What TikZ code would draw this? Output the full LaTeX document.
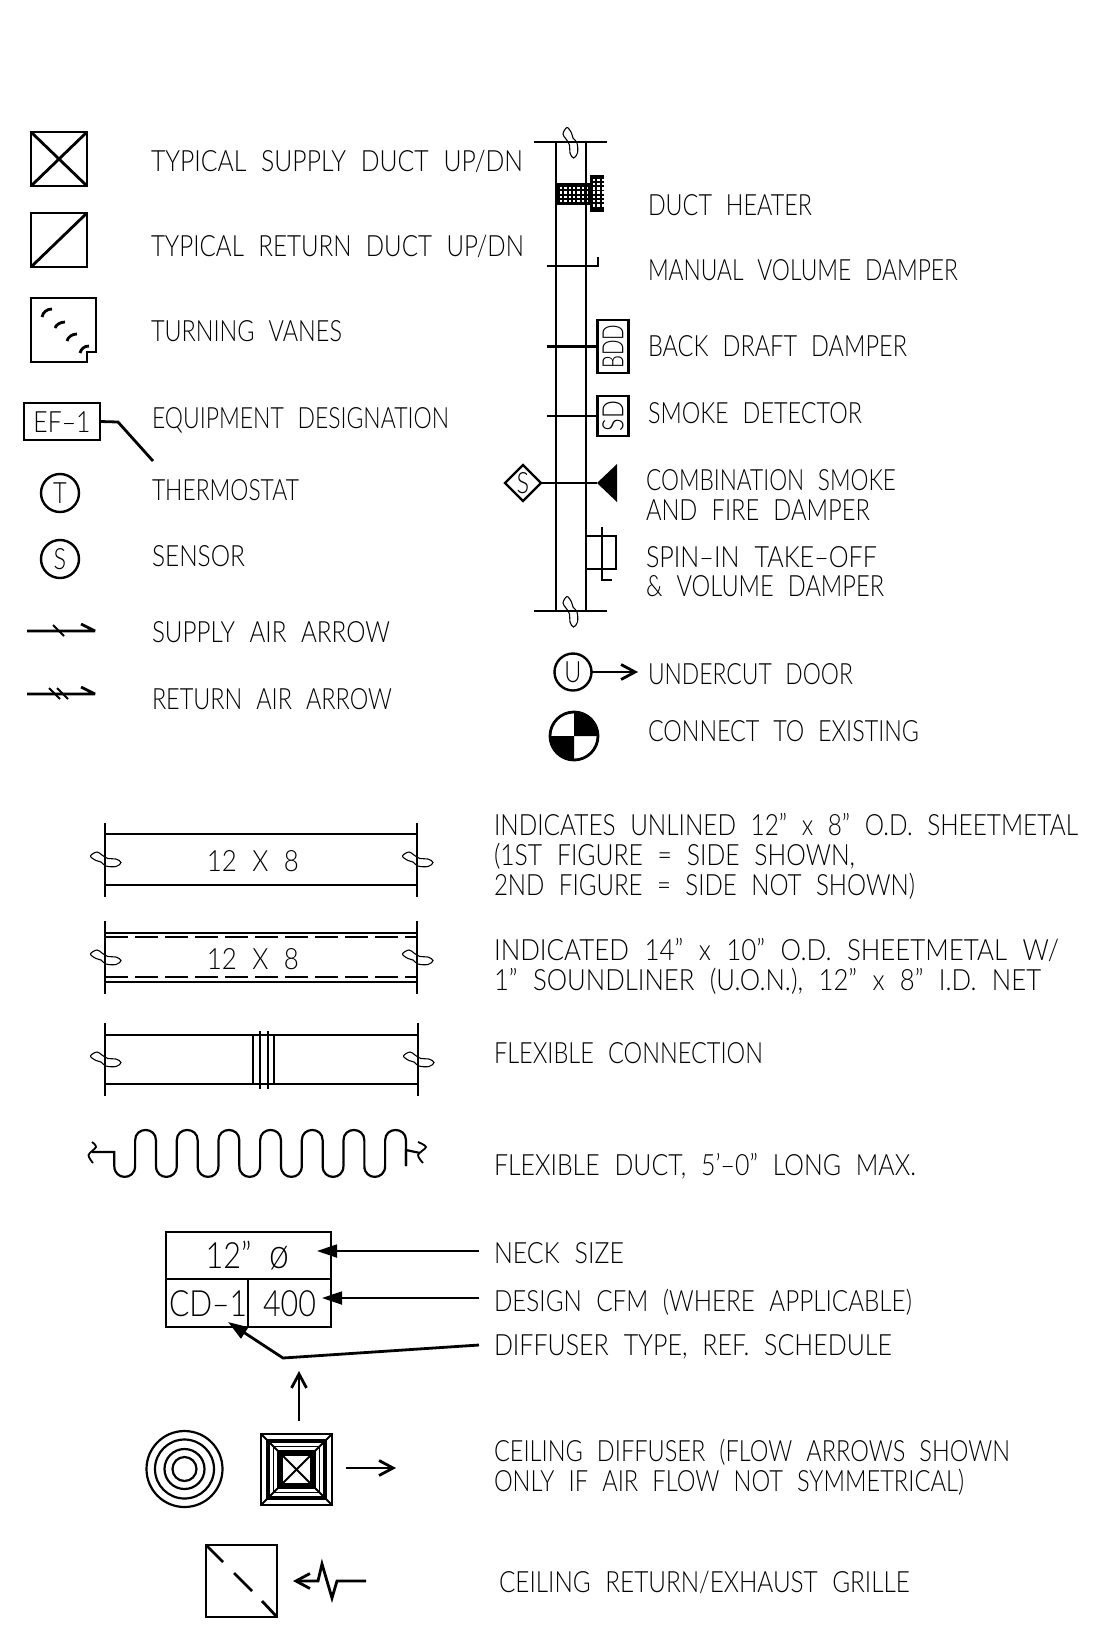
\documentclass[tikz,border=0pt]{standalone}
\usepackage{graphicx}
\usepackage{fontspec}
\usetikzlibrary{arrows.meta,shapes.geometric}
\newfontfamily\cadfont[FakeStretch=0.8,WordSpace=2.2]{Lato Light}
\newcommand{\fitw}[2]{\resizebox{\dimexpr#1pt/2\relax}{\height}{#2}}
\tikzset{
    cadline/.style={line width=1.4pt, line join=miter},
    thinline/.style={line width=0.9pt},
    hairline/.style={line width=0.55pt},
    cadbox/.style={rectangle, draw, line width=1.4pt, inner sep=0, outer sep=0},
    cadcircle/.style={circle, draw, line width=1.2pt, inner sep=0, outer sep=0, minimum size=19pt},
    cadtext/.style={inner sep=0, outer sep=0, text height=10.5pt, text depth=0pt, font=\cadfont\fontsize{14.65}{16}\selectfont},
    bigtext/.style={inner sep=0, outer sep=0, text height=13pt, text depth=0pt, font=\cadfont\fontsize{18.1}{20}\selectfont},
    legend/.style={cadtext, anchor=west},
    openhead/.style={-{Straight Barb[length=7pt,width=7.5pt]}},
    solidhead/.style={-{Triangle[length=10pt,width=6.5pt]}},
    ductbreak/.pic={\draw[hairline] plot[smooth cycle, tension=0.6] coordinates {(-7,-8) (-3,-14.5) (1.5,-9) (3,-4) (7,1) (7.5,11) (3.5,16) (0,11) (-0.5,3) (-4,-3)};},
    ductbreak side/.pic={\draw[hairline] plot[smooth cycle, tension=0.6] coordinates {(-8,-7) (-14.5,-3) (-9,1.5) (-4,3) (1,7) (11,7.5) (16,3.5) (11,0) (3,-0.5) (-3,-4)};}
}
\begin{document}
\begin{tikzpicture}[x=0.5pt, y=-0.5pt]
    \useasboundingbox (0,0) rectangle (1113,1650);

    % Left column symbols
    \node (supply) [cadbox, minimum width=28pt, minimum height=27pt] at (59,159) {};
    \node (return) [cadbox, minimum width=28pt, minimum height=27pt] at (59,240) {};
    \draw[cadline] (supply.north west) -- (supply.south east);
    \draw[cadline] (supply.north east) -- (supply.south west);
    \draw[cadline] (return.north east) -- (return.south west);
    \draw[cadline] (31,298) -- (96,298) -- (96,352) -- (87,352) -- (87,362) -- (31,362) -- cycle;
    \draw[cadline] (42,317) .. controls (43,312) and (47,309) .. (52,309);
    \draw[cadline] (55,328) .. controls (56,325) and (60,322) .. (65,322);
    \draw[cadline] (67,341) .. controls (68,337) and (72,334) .. (77,334);
    \draw[cadline] (80,353) .. controls (81,349) and (84,346) .. (89,346);
    \node (ef) [cadbox, cadtext, minimum width=38pt, minimum height=18.5pt] at (62,421.5) {\fitw{57}{EF–1}};
    \coordinate (efbend) at (118,422);
    \coordinate (efend) at (153,461);
    \draw[cadline] (ef.east) -- (efbend) -- (efend);
    \node (tstat) [cadcircle, cadtext] at (60,493) {T};
    \node (sens) [cadcircle, cadtext] at (60,559) {S};
    \draw[cadline, line join=bevel] (27,631) -- (95,631) -- (81,624);
    \draw[thinline] (53,625) -- (64,636);
    \draw[cadline, line join=bevel] (27,694) -- (95,694) -- (81,687);
    \draw[thinline] (49,688) -- (60,699);
    \draw[thinline] (57,688) -- (68,699);

    % Left column labels
    \node (l1) [legend] at (151,161) {\fitw{372}{TYPICAL SUPPLY DUCT UP/DN}};
    \node (l2) [legend] at (151,246) {\fitw{373}{TYPICAL RETURN DUCT UP/DN}};
    \node (l3) [legend] at (151,331) {\fitw{191}{TURNING VANES}};
    \node (l4) [legend] at (152,418) {\fitw{297}{EQUIPMENT DESIGNATION}};
    \node (l5) [legend] at (152,490) {\fitw{147}{THERMOSTAT}};
    \node (l6) [legend] at (152,556) {\fitw{93}{SENSOR}};
    \node (l7) [legend] at (152,632) {\fitw{238}{SUPPLY AIR ARROW}};
    \node (l8) [legend] at (152,699) {\fitw{240}{RETURN AIR ARROW}};

    % Riser
    \fill (556,183) rectangle (590,205);
    \fill (590,175) rectangle (604,212);
    \foreach \dx in {0,...,6} \foreach \dy in {0,...,3}
        \fill[white] ({561+4.3*\dx-1},{188+4.3*\dy-1}) rectangle ++(2.4,2.4);
    \foreach \dx in {0,1,2} \foreach \dy in {0,...,6}
        \fill[white] ({594+4.3*\dx-1},{179.5+4.3*\dy-1}) rectangle ++(2.4,2.4);
    \draw[cadline] (556,142) -- (556,611);
    \draw[cadline] (586,142) -- (586,611);
    \draw[cadline] (534,142) -- (607,142);
    \draw[cadline] (534,611) -- (607,611);
    \pic at (570,142) {ductbreak};
    \pic at (570,611) {ductbreak};
    \draw[cadline] (547,266) -- (598,266) -- (598,257);
    \node (bdd) [cadbox, minimum width=15.5pt, minimum height=26.5pt] at (612.75,346.5) {};
    \node (bddtext) [cadtext, rotate=90] at (bdd.center) {\fitw{44}{BDD}};
    \coordinate (bddend) at (547,346.5);
    \draw[cadline] (bddend) -- (bdd.west);
    \node (sd) [cadbox, minimum width=15.5pt, minimum height=20pt] at (612.75,416) {};
    \node (sdtext) [cadtext, rotate=90] at (sd.center) {SD};
    \coordinate (sdend) at (547,416);
    \draw[cadline] (sdend) -- (sd.west);
    \node (sdiamond) [diamond, draw, line width=1.2pt, cadtext, minimum width=18pt, minimum height=18pt, outer sep=0] at (523,483) {S};
    \coordinate (cfdapex) at (597,483);
    \draw[cadline] (sdiamond.east) -- (cfdapex);
    \fill (cfdapex) -- (617,464) -- (617,502) -- cycle;
    \draw[cadline] (586,536) -- (616,536) -- (616,569) -- (586,569);
    \draw[cadline] (602,527) -- (602,580) -- (612,580);
    \node (under) [cadcircle, cadtext, minimum size=18.5pt] at (573,672) {U};
    \coordinate (underend) at (638,672);
    \draw[cadline, openhead] (under.east) -- (underend);
    \node (conn) [circle, draw, line width=1.4pt, minimum size=24pt, inner sep=0, outer sep=0] at (574,736) {};
    \fill (conn.center) -- (conn.west) arc[start angle=180, end angle=90, radius=24] -- cycle;
    \fill (conn.center) -- (conn.east) arc[start angle=0, end angle=-90, radius=24] -- cycle;

    % Riser labels
    \node (r1) [legend] at (648,205) {\fitw{164}{DUCT HEATER}};
    \node (r2) [legend] at (648,270) {\fitw{310}{MANUAL VOLUME DAMPER}};
    \node (r3) [legend] at (648,346) {\fitw{259}{BACK DRAFT DAMPER}};
    \node (r4) [legend] at (648,413) {\fitw{214}{SMOKE DETECTOR}};
    \node (r5) [legend] at (646,480) {\fitw{250}{COMBINATION SMOKE}};
    \node (r6) [legend] at (646,510) {\fitw{224}{AND FIRE DAMPER}};
    \node (r7) [legend] at (646,556.5) {\fitw{231}{SPIN–IN TAKE–OFF}};
    \node (r8) [legend] at (646,586) {\fitw{238}{\& VOLUME DAMPER}};
    \node (r9) [legend] at (648,674) {\fitw{205}{UNDERCUT DOOR}};
    \node (r10) [legend] at (648,731) {\fitw{271}{CONNECT TO EXISTING}};

    % Duct runs
    \draw[cadline] (105,823) -- (105,897);
    \draw[cadline] (417,823) -- (417,897);
    \draw[cadline] (105,834) -- (417,834);
    \draw[cadline] (105,885) -- (417,885);
    \node (size1) [cadtext] at (253,861) {\fitw{92}{12 X 8}};
    \pic at (105,859) {ductbreak side};
    \pic at (417,859) {ductbreak side};
    \draw[cadline] (105,921) -- (105,994);
    \draw[cadline] (417,921) -- (417,994);
    \draw[cadline] (105,933) -- (417,933);
    \draw[cadline] (105,982) -- (417,982);
    \draw[thinline, dash pattern=on 11.5pt off 3.5pt] (105,937) -- (417,937);
    \draw[thinline, dash pattern=on 11.5pt off 3.5pt] (105,977) -- (417,977);
    \node (size2) [cadtext] at (253,959) {\fitw{92}{12 X 8}};
    \pic at (105,957) {ductbreak side};
    \pic at (417,957) {ductbreak side};
    \draw[cadline] (105,1023) -- (105,1096);
    \draw[cadline] (418,1023) -- (418,1096);
    \draw[cadline] (105,1035) -- (418,1035);
    \draw[cadline] (105,1084) -- (418,1084);
    \draw[thinline] (253,1035) -- (253,1084);
    \draw[thinline] (274,1035) -- (274,1084);
    \draw[thinline] (260,1031) -- (260,1089);
    \draw[thinline] (268,1031) -- (268,1089);
    \pic at (105,1059) {ductbreak side};
    \pic at (418,1059) {ductbreak side};
    \draw[thinline] plot[smooth] coordinates {(92,1142) (96,1147) (88.5,1155) (93,1163)};
    \draw[line width=1.1pt] (92,1152) -- (114.3,1152) -- (114.3,1166)
        \foreach \k in {0,...,6} {
            .. controls ({114.3+41.67*\k},1180.5) and ({135.1+41.67*\k},1180.5) .. ({135.1+41.67*\k},1166)
            -- ({135.1+41.67*\k},1140.4)
            .. controls ({135.1+41.67*\k},1126.5) and ({156*1+41.67*\k},1126.5) .. ({156*1+41.67*\k},1140.4)
            -- ({156*1+41.67*\k},1166)
        };
    \draw[line width=1.1pt] (406,1166) -- (406,1150) -- (420,1153);
    \draw[thinline] plot[smooth] coordinates {(418,1142) (426,1147) (418,1155) (423,1163)};

    % Duct labels
    \node (d1) [legend] at (494,825) {\fitw{584}{INDICATES UNLINED 12” x 8” O.D. SHEETMETAL}};
    \node (d2) [legend] at (494,855) {\fitw{361}{(1ST FIGURE = SIDE SHOWN,}};
    \node (d3) [legend] at (494,885) {\fitw{421}{2ND FIGURE = SIDE NOT SHOWN)}};
    \node (d4) [legend] at (494,950) {\fitw{565}{INDICATED 14” x 10” O.D. SHEETMETAL W/}};
    \node (d5) [legend] at (494,980) {\fitw{547}{1” SOUNDLINER (U.O.N.), 12” x 8” I.D. NET}};
    \node (d6) [legend] at (494,1053) {\fitw{269}{FLEXIBLE CONNECTION}};
    \node (d7) [legend] at (494,1165) {\fitw{422}{FLEXIBLE DUCT, 5’–0” LONG MAX.}};

    % Diffuser schedule
    \node (neck) [cadbox, minimum width=82.5pt, minimum height=23.5pt] at (248.5,1255.5) {};
    \node (type) [cadbox, minimum width=41pt, minimum height=24pt] at (207,1303) {};
    \node (cfm) [cadbox, minimum width=41.5pt, minimum height=24pt] at (289.5,1303) {};
    \node (necktext) [bigtext] at (247.5,1255) {\fitw{84}{12” {\fontsize{21}{21}\selectfont ø}}};
    \node (typetext) [bigtext] at (208,1303) {\fitw{78}{CD–1}};
    \node (cfmtext) [bigtext] at (289.5,1303) {\fitw{53}{400}};
    \node (l10) [legend] at (494,1253) {\fitw{130}{NECK SIZE}};
    \node (l11) [legend] at (494,1301) {\fitw{418}{DESIGN CFM (WHERE APPLICABLE)}};
    \node (l12) [legend] at (494,1345) {\fitw{398}{DIFFUSER TYPE, REF. SCHEDULE}};
    \coordinate (necktail) at (479,1251);
    \coordinate (necktip) at (317,1251);
    \coordinate (cfmtail) at (479,1298);
    \coordinate (cfmtip) at (322,1298);
    \coordinate (typetail) at (479,1345);
    \coordinate (typebend) at (283,1358);
    \coordinate (typetip) at (228,1322);
    \draw[thinline, solidhead] (necktail) -- (necktip);
    \draw[thinline, solidhead] (cfmtail) -- (cfmtip);
    \draw[cadline, solidhead] (typetail) -- (typebend) -- (typetip);

    % Ceiling diffuser
    \foreach \r in {38,29.5,20,12}
        \draw[line width=1.1pt] (184.5,1469) circle[radius=\r];
    \node (diff) [cadbox, minimum width=35.5pt, minimum height=35.5pt] at (296.5,1469.5) {};
    \draw[line width=2.3pt] (296.5-28.5,1469.5-28.5) rectangle (296.5+28.5,1469.5+28.5);
    \draw[thinline] (296.5-23,1469.5-23) rectangle (296.5+23,1469.5+23);
    \draw[line width=3.2pt] (296.5-16.5,1469.5-16.5) rectangle (296.5+16.5,1469.5+16.5);
    \draw[thinline] (diff.north west) -- (diff.south east);
    \draw[thinline] (diff.north east) -- (diff.south west);
    \coordinate (diffup0) at (299,1421);
    \coordinate (diffup1) at (299,1371);
    \coordinate (diffr0) at (346,1468);
    \coordinate (diffr1) at (396,1468);
    \draw[cadline, openhead] (diffup0) -- (diffup1);
    \draw[cadline, openhead] (diffr0) -- (diffr1);
    \node (l13) [legend] at (494,1451) {\fitw{516}{CEILING DIFFUSER (FLOW ARROWS SHOWN}};
    \node (l14) [legend] at (494,1481) {\fitw{470}{ONLY IF AIR FLOW NOT SYMMETRICAL)}};

    % Return grille
    \node (grille) [cadbox, minimum width=35.5pt, minimum height=36pt] at (241.5,1581) {};
    \draw[cadline] (grille.north west) -- (223,1562);
    \draw[cadline] (234,1573) -- (252,1591);
    \draw[cadline] (262,1601) -- (grille.south east);
    \coordinate (grtail) at (366,1581);
    \coordinate (grtip) at (293,1581);
    \draw[cadline, openhead] (grtail) -- (337,1581) -- (332,1598) -- (322,1564) -- (318,1581) -- (grtip);
    \node (l15) [legend] at (499,1582) {\fitw{411}{CEILING RETURN/EXHAUST GRILLE}};
\end{tikzpicture}
\end{document}
